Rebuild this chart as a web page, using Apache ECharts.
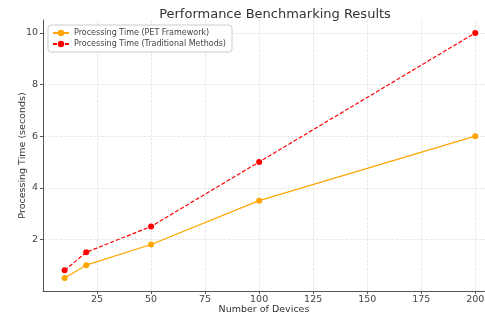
<!DOCTYPE html>
<html>
<head>
<meta charset="utf-8">
<script src="https://cdn.jsdelivr.net/npm/echarts@6/dist/echarts.min.js"></script>
<style>
  html, body { margin: 0; padding: 0; background: #fff; }
  #chart { width: 485px; height: 317px; }
</style>
</head>
<body>
<div id="chart"></div>
<script>
// data
var devices = [10, 20, 50, 100, 200]
var petTimes = [0.5, 1.0, 1.8, 3.5, 6.0]
var traditionalTimes = [0.8, 1.5, 2.5, 5.0, 10.0]
var seriesNames = ['Processing Time (PET Framework)', 'Processing Time (Traditional Methods)']

function pairs (xs, ys) {
  return xs.map(function (x, i) { return [x, ys[i]] })
}

var myChart = echarts.init(document.getElementById('chart'))
var font = 'DejaVu Sans'
var option = {
  animation: false,
  title: {
    text: 'Performance Benchmarking Results',
    left: 270,
    top: 3,
    textAlign: 'center',
    textStyle: { fontFamily: font, fontSize: 13, fontWeight: 'normal', color: '#333' }
  },
  legend: {
    orient: 'vertical',
    left: 48,
    top: 25,
    itemWidth: 16,
    itemHeight: 8,
    itemGap: 3,
    padding: [4, 6, 4, 4],
    borderColor: '#ccc',
    borderWidth: 1,
    borderRadius: 3,
    backgroundColor: '#fff',
    textStyle: { fontFamily: font, fontSize: 8, color: '#444' },
    data: seriesNames
  },
  grid: { left: 43, right: 0, top: 20, bottom: 26, outerBoundsMode: 'none', containLabel: false },
  xAxis: {
    type: 'value',
    min: 0,
    max: 204.5,
    interval: 25,
    name: 'Number of Devices',
    nameLocation: 'middle',
    nameGap: 14,
    nameMoveOverlap: false,
    nameTextStyle: { fontFamily: font, fontSize: 9.5, color: '#333' },
    axisLine: { show: true, onZero: false, lineStyle: { color: '#555', width: 1 } },
    axisTick: { show: true, length: 3, lineStyle: { color: '#555' } },
    axisLabel: { fontFamily: font, fontSize: 9.5, color: '#444', margin: 4, showMinLabel: false, showMaxLabel: false },
    splitLine: { show: true, showMinLine: false, showMaxLine: false, lineStyle: { color: '#ddd', type: 'dashed', width: 0.7 } }
  },
  yAxis: {
    type: 'value',
    min: 0,
    max: 10.5,
    interval: 2,
    name: 'Processing Time (seconds)',
    nameLocation: 'middle',
    nameGap: 15,
    nameMoveOverlap: false,
    nameTextStyle: { fontFamily: font, fontSize: 9.5, color: '#333' },
    axisLine: { show: true, onZero: false, lineStyle: { color: '#555', width: 1 } },
    axisTick: { show: true, length: 3, lineStyle: { color: '#555' } },
    axisLabel: { fontFamily: font, fontSize: 9.5, color: '#444', margin: 5, showMinLabel: false, showMaxLabel: false },
    splitLine: { show: true, showMinLine: false, showMaxLine: false, lineStyle: { color: '#ddd', type: 'dashed', width: 0.7 } }
  },
  series: [
    {
      name: seriesNames[0],
      type: 'line',
      data: pairs(devices, petTimes),
      symbol: 'circle',
      symbolSize: 6,
      color: '#ffa500',
      lineStyle: { width: 1.2, color: '#ffa500' },
      itemStyle: { color: '#ffa500' }
    },
    {
      name: seriesNames[1],
      type: 'line',
      data: pairs(devices, traditionalTimes),
      symbol: 'circle',
      symbolSize: 6,
      color: '#ff0000',
      lineStyle: { width: 1.2, color: '#ff0000', type: [4, 2] },
      itemStyle: { color: '#ff0000' }
    }
  ]
}
myChart.setOption(option, true)
</script>
</body>
</html>
